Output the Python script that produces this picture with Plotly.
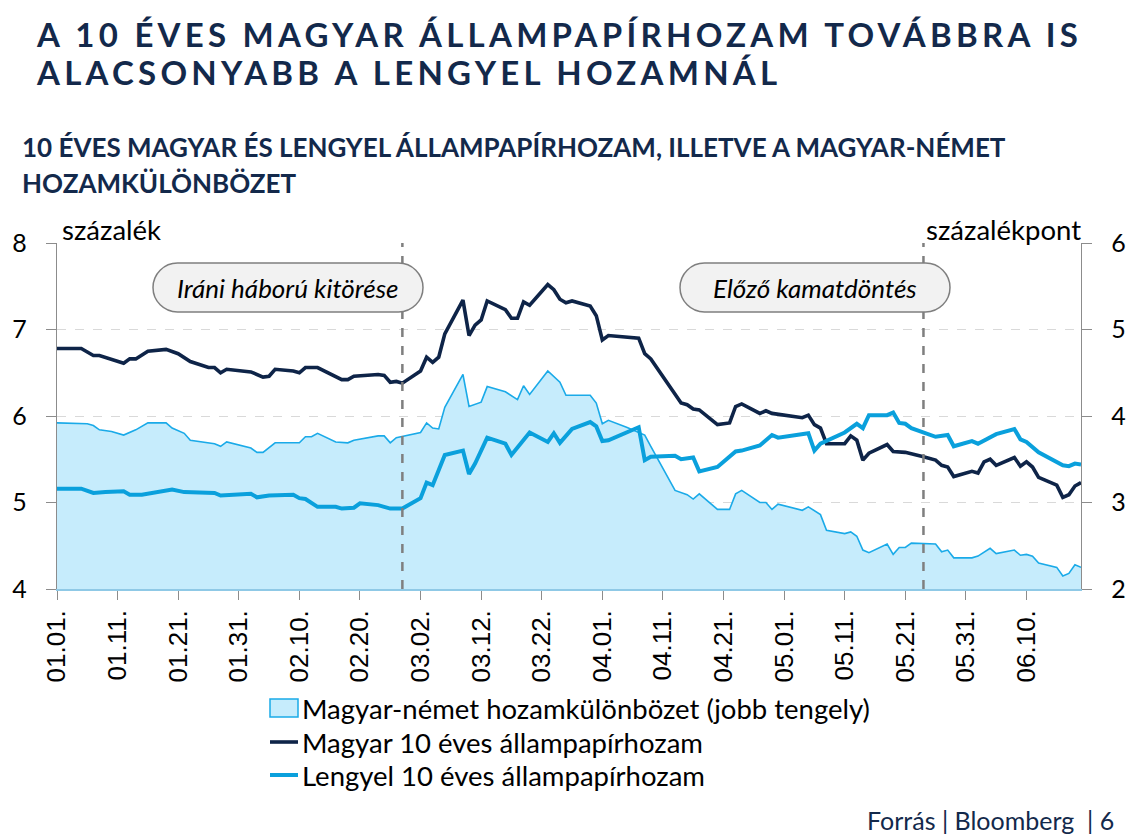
import plotly.graph_objects as go
from datetime import datetime, timedelta

# ---------------- data ----------------
BASE = datetime(2026, 1, 1)  # x values are days counted from 01.01.

# Magyar 10 éves állampapírhozam (left axis, %)
hu_days = [0, 4, 6, 7, 11, 12, 13, 15, 18, 20, 22, 25, 26, 27, 28, 32, 34, 35, 36, 39,
           40, 41, 43, 46, 47, 48, 49, 53, 54, 55, 56, 57, 60, 61, 62, 63, 64, 67, 68, 69,
           70, 71, 74, 75, 76, 77, 78, 81, 82, 83, 84, 85, 88, 89, 90, 91, 96, 97, 98, 103,
           104, 105, 106, 109, 111, 112, 113, 116, 117, 118, 123, 124, 125, 126, 127, 130, 131, 132, 133, 134,
           137, 138, 140, 143, 145, 146, 147, 148, 151, 152, 153, 154, 155, 158, 159, 160, 161, 162, 165, 166,
           167, 168, 169]
hu_vals = [6.78, 6.78, 6.70, 6.70, 6.61, 6.66, 6.66, 6.75, 6.77, 6.72, 6.63, 6.56, 6.56, 6.50, 6.54, 6.51, 6.45, 6.46, 6.54, 6.52,
           6.50, 6.56, 6.56, 6.45, 6.42, 6.42, 6.46, 6.48, 6.47, 6.39, 6.40, 6.38, 6.52, 6.68, 6.62, 6.68, 6.95, 7.34, 6.93, 7.05,
           7.11, 7.33, 7.23, 7.13, 7.13, 7.32, 7.28, 7.52, 7.46, 7.35, 7.31, 7.33, 7.27, 7.16, 6.88, 6.93, 6.90, 6.72, 6.66, 6.15,
           6.13, 6.08, 6.07, 5.90, 5.92, 6.11, 6.14, 6.03, 6.06, 6.03, 5.98, 6.01, 5.90, 5.86, 5.68, 5.68, 5.77, 5.72, 5.49, 5.57,
           5.67, 5.59, 5.58, 5.53, 5.49, 5.43, 5.41, 5.30, 5.36, 5.34, 5.47, 5.50, 5.43, 5.52, 5.42, 5.47, 5.41, 5.29, 5.20, 5.06,
           5.09, 5.19, 5.23]

# Lengyel 10 éves állampapírhozam (left axis, %)
pl_days = [0, 4, 6, 7, 8, 11, 12, 14, 19, 21, 26, 27, 32, 33, 35, 39, 40, 41, 43, 46,
           47, 49, 50, 53, 55, 57, 60, 61, 62, 64, 67, 68, 69, 71, 74, 75, 78, 81, 82, 83,
           85, 88, 89, 90, 91, 96, 97, 98, 102, 103, 105, 106, 109, 112, 113, 116, 118, 119, 124, 125,
           126, 130, 132, 133, 134, 137, 138, 139, 140, 141, 145, 147, 148, 151, 152, 155, 158, 159, 160, 162,
           166, 167, 168, 169]
pl_vals = [5.16, 5.16, 5.11, 5.12, 5.12, 5.13, 5.09, 5.09, 5.15, 5.12, 5.11, 5.08, 5.10, 5.06, 5.08, 5.09, 5.05, 5.04, 4.95, 4.95,
           4.93, 4.94, 4.99, 4.97, 4.93, 4.93, 5.05, 5.23, 5.20, 5.55, 5.60, 5.33, 5.45, 5.75, 5.68, 5.55, 5.81, 5.70, 5.80, 5.69,
           5.85, 5.93, 5.88, 5.71, 5.72, 5.87, 5.49, 5.53, 5.54, 5.50, 5.52, 5.36, 5.41, 5.59, 5.60, 5.66, 5.78, 5.75, 5.80, 5.60,
           5.68, 5.81, 5.91, 5.86, 6.01, 6.01, 6.04, 5.92, 5.91, 5.86, 5.76, 5.78, 5.65, 5.71, 5.68, 5.79, 5.85, 5.73, 5.70, 5.58,
           5.43, 5.42, 5.45, 5.44]

# Magyar-német hozamkülönbözet (right axis, százalékpont)
sp_days = [0, 5, 6, 7, 9, 11, 13, 15, 18, 19, 21, 22, 26, 27, 28, 32, 33, 34, 36, 40,
           41, 42, 43, 46, 48, 49, 53, 54, 55, 56, 60, 61, 62, 63, 64, 67, 68, 70, 71, 74,
           76, 77, 78, 81, 83, 84, 88, 89, 90, 91, 94, 97, 98, 102, 104, 105, 106, 109, 111, 112,
           113, 116, 117, 118, 119, 123, 124, 126, 127, 130, 131, 132, 133, 134, 137, 138, 139, 140, 141, 145,
           146, 147, 148, 151, 152, 154, 155, 158, 159, 160, 161, 162, 165, 166, 167, 168, 169]
sp_vals = [3.92, 3.91, 3.89, 3.84, 3.82, 3.78, 3.84, 3.92, 3.92, 3.86, 3.80, 3.72, 3.68, 3.65, 3.70, 3.63, 3.58, 3.58, 3.69, 3.69,
           3.76, 3.76, 3.80, 3.70, 3.69, 3.72, 3.77, 3.77, 3.69, 3.75, 3.81, 3.92, 3.86, 3.85, 4.10, 4.48, 4.11, 4.16, 4.34, 4.28,
           4.19, 4.35, 4.25, 4.52, 4.39, 4.24, 4.24, 4.15, 3.91, 3.95, 3.87, 3.78, 3.65, 3.14, 3.09, 3.04, 3.10, 2.92, 2.92, 3.10,
           3.14, 3.00, 3.00, 2.92, 2.98, 2.91, 2.95, 2.86, 2.68, 2.64, 2.66, 2.61, 2.45, 2.42, 2.52, 2.40, 2.48, 2.48, 2.53, 2.52,
           2.43, 2.45, 2.36, 2.36, 2.38, 2.47, 2.41, 2.45, 2.39, 2.40, 2.38, 2.30, 2.25, 2.15, 2.18, 2.28, 2.25]

tick_days = [0, 10, 20, 30, 40, 50, 60, 70, 80, 90, 100, 110, 120, 130, 140, 150, 160]
tick_labels = ["01.01.", "01.11.", "01.21.", "01.31.", "02.10.", "02.20.", "03.02.", "03.12.", "03.22.",
               "04.01.", "04.11.", "04.21.", "05.01.", "05.11.", "05.21.", "05.31.", "06.10."]
x_end_day = 169

event_days = [57, 143]
event_labels = ["Iráni háború kitörése", "Előző kamatdöntés"]

series_names = ["Magyar-német hozamkülönbözet (jobb tengely)",
                "Magyar 10 éves állampapírhozam",
                "Lengyel 10 éves állampapírhozam"]

# ---------------- helpers ----------------
def d(day):
    return BASE + timedelta(days=day)

W, H = 1135, 835
ML, MR, MT, MB = 57, 54, 243, 246
PW, PH = W - ML - MR, H - MT - MB

def px(xp):
    return (xp - ML) / PW

def py(yp):
    return (H - MB - yp) / PH

NAVY = "#13294b"
HU_COL = "#0e2448"
PL_COL = "#0aa0dc"
SP_LINE = "#1aaae8"
SP_FILL = "#c6ecfc"
GRID = "#d9d9d9"
AX = "#8c8c8c"
FONT = "Lato"

fig = go.Figure()

# spread on the base (right-hand) axis so that the yield lines are drawn above it
fig.add_trace(go.Scatter(
    x=[d(v) for v in sp_days], y=sp_vals, yaxis="y", name=series_names[0],
    mode="lines", line=dict(color=SP_LINE, width=1.6), fill="tozeroy", fillcolor=SP_FILL,
    showlegend=False,
))
fig.add_trace(go.Scatter(
    x=[d(v) for v in hu_days], y=hu_vals, yaxis="y2", name=series_names[1],
    mode="lines", line=dict(color=HU_COL, width=3.6), showlegend=False,
))
fig.add_trace(go.Scatter(
    x=[d(v) for v in pl_days], y=pl_vals, yaxis="y2", name=series_names[2],
    mode="lines", line=dict(color=PL_COL, width=4), showlegend=False,
))

# event lines
for ed in event_days:
    fig.add_shape(type="line", xref="x", yref="paper", x0=d(ed), x1=d(ed), y0=0, y1=1,
                  line=dict(color="#7f7f7f", width=2.5, dash="dash"), layer="above")

def pill(x0, y0, x1, y1):
    r = (y1 - y0) / 2.0
    k = 0.5523 * r
    def P(a, b):
        return f"{px(a):.5f},{py(b):.5f}"
    return (f"M {P(x0 + r, y0)} L {P(x1 - r, y0)} "
            f"C {P(x1 - r + k, y0)} {P(x1, y0 + r - k)} {P(x1, y0 + r)} "
            f"C {P(x1, y0 + r + k)} {P(x1 - r + k, y1)} {P(x1 - r, y1)} "
            f"L {P(x0 + r, y1)} "
            f"C {P(x0 + r - k, y1)} {P(x0, y0 + r + k)} {P(x0, y0 + r)} "
            f"C {P(x0, y0 + r - k)} {P(x0 + r - k, y0)} {P(x0 + r, y0)} Z")

boxes = [(153, 263, 423, 312), (680, 263, 950, 312)]
for (bx0, by0, bx1, by1), lab in zip(boxes, event_labels):
    fig.add_shape(type="path", xref="paper", yref="paper", path=pill(bx0, by0, bx1, by1),
                  fillcolor="#f2f2f2", line=dict(color="#7f7f7f", width=1.5), layer="above")
    fig.add_annotation(xref="paper", yref="paper", x=px((bx0 + bx1) / 2), y=py((by0 + by1) / 2),
                       text=f"<i>{lab}</i>", showarrow=False, xanchor="center", yanchor="middle",
                       font=dict(family=FONT, size=26, color="#000000"))

# text helper
def ann(text, xp, yp, size, color=NAVY, anchor="left", bold=False, spacing=None):
    t = text
    if spacing:
        t = f'<span style="letter-spacing:{spacing}px">{t}</span>'
    if bold:
        t = f"<b>{t}</b>"
    fig.add_annotation(xref="paper", yref="paper", x=px(xp), y=py(yp), text=t, showarrow=False,
                       xanchor=anchor, yanchor="middle", font=dict(family=FONT, size=size, color=color))

ann("A 10 ÉVES MAGYAR ÁLLAMPAPÍRHOZAM TOVÁBBRA IS", 34, 34, 33, bold=True, spacing=4.25)
ann("ALACSONYABB A LENGYEL HOZAMNÁL", 34, 72, 33, bold=True, spacing=4.25)
ann("10 ÉVES MAGYAR ÉS LENGYEL ÁLLAMPAPÍRHOZAM, ILLETVE A MAGYAR-NÉMET", 20, 147, 26, bold=True)
ann("HOZAMKÜLÖNBÖZET", 20, 183, 26, bold=True)
ann("százalék", 60, 229, 27.5, color="#000000")
ann("százalékpont", 1083, 229, 27.5, color="#000000", anchor="right")
ann("Forrás | Bloomberg  | 6", 1116, 820, 25, color=NAVY, anchor="right")

# legend (drawn manually to match the original row spacing)
leg_rows = [708, 742, 775]
sym_x0, sym_x1 = 270, 298
fig.add_shape(type="rect", xref="paper", yref="paper",
              x0=px(sym_x0), x1=px(sym_x1), y0=py(leg_rows[0] + 9), y1=py(leg_rows[0] - 9),
              fillcolor=SP_FILL, line=dict(color=SP_LINE, width=1.5))
fig.add_shape(type="line", xref="paper", yref="paper",
              x0=px(sym_x0), x1=px(sym_x1), y0=py(leg_rows[1]), y1=py(leg_rows[1]),
              line=dict(color=HU_COL, width=3.6))
fig.add_shape(type="line", xref="paper", yref="paper",
              x0=px(sym_x0), x1=px(sym_x1), y0=py(leg_rows[2]), y1=py(leg_rows[2]),
              line=dict(color=PL_COL, width=4))
for row, name in zip(leg_rows, series_names):
    ann(name, 300, row, 27.5, color="#000000")

fig.update_layout(
    width=W, height=H, margin=dict(l=ML, r=MR, t=MT, b=MB, autoexpand=False),
    paper_bgcolor="white", plot_bgcolor="white",
    font=dict(family=FONT, color="#000000"),
    showlegend=False,
    xaxis=dict(type="date", range=[d(0), d(x_end_day)], tickmode="array",
               tickvals=[d(v) for v in tick_days], ticktext=tick_labels, tickangle=-90,
               ticks="outside", ticklen=9, tickcolor=AX, tickwidth=1.3,
               showline=True, linecolor="#8fc9e6", linewidth=1.5, showgrid=False, zeroline=False,
               tickfont=dict(family="Liberation Sans", size=26, color="#000000")),
    yaxis=dict(range=[2, 6], dtick=1, side="right", ticks="outside", ticklen=10,
               tickcolor=AX, tickwidth=1.3, showline=True, linecolor=AX, linewidth=1.3,
               showgrid=False, zeroline=False, ticklabelstandoff=14,
               tickfont=dict(family=FONT, size=25, color="#000000")),
    yaxis2=dict(range=[4, 8], dtick=1, side="left", overlaying="y", ticks="outside", ticklen=10,
                tickcolor=AX, tickwidth=1.3, showline=True, linecolor=AX, linewidth=1.3,
                showgrid=True, gridcolor=GRID, griddash="dash", gridwidth=1, zeroline=False,
                ticklabelstandoff=14, tickfont=dict(family=FONT, size=25, color="#000000")),
)

fig.write_html("out.html")
